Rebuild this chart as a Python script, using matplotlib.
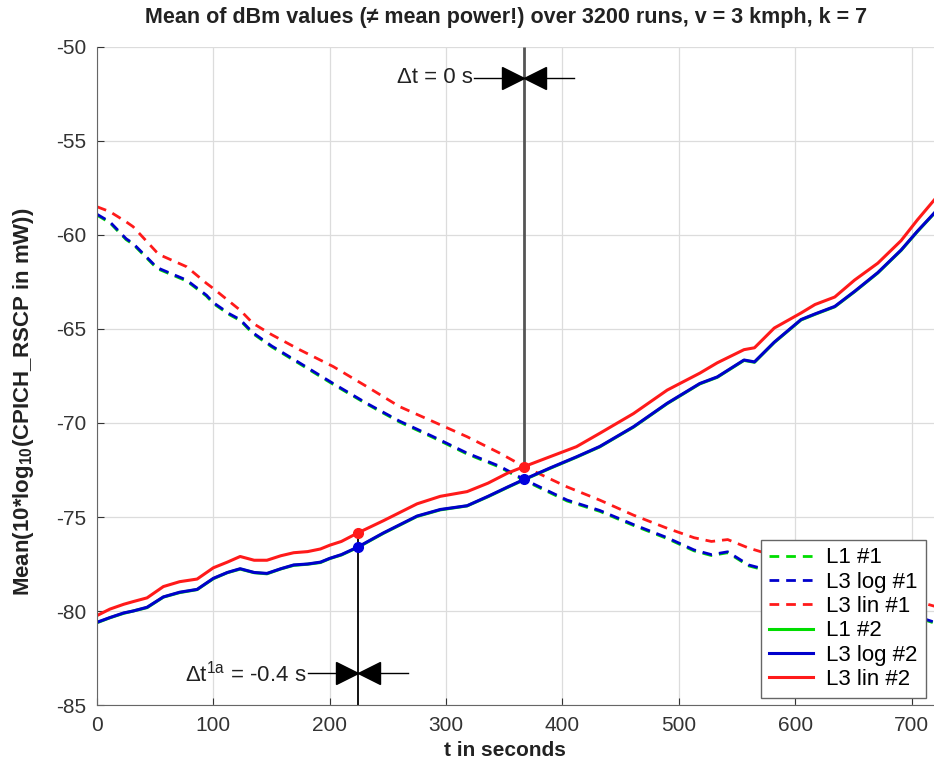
import matplotlib
matplotlib.use('Agg')
import matplotlib.pyplot as plt
from matplotlib.transforms import offset_copy

plt.rcParams['font.family'] = ['Liberation Sans', 'DejaVu Sans']
plt.rcParams['mathtext.fontset'] = 'custom'
plt.rcParams['mathtext.rm'] = 'Liberation Sans'
plt.rcParams['mathtext.bf'] = 'Liberation Sans:bold'
plt.rcParams['axes.unicode_minus'] = False

# runs #2 (solid): rising curves
t2 = [0, 11, 23, 31, 43, 57, 71, 86, 100, 112, 123, 135, 146, 158, 169, 181, 192, 200,
      210, 224, 246, 275, 295, 318, 336, 353, 367, 389, 412, 432, 461, 490, 518, 533,
      556, 565, 582, 605, 617, 634, 651, 671, 691, 705, 720]
l3_lin_2 = [-80.24, -79.9, -79.64, -79.5, -79.3, -78.7, -78.44, -78.3, -77.7, -77.4, -77.1,
            -77.3, -77.3, -77.06, -76.9, -76.84, -76.7, -76.5, -76.3, -75.85, -75.2, -74.3,
            -73.9, -73.65, -73.2, -72.66, -72.32, -71.8, -71.26, -70.55, -69.5, -68.25,
            -67.35, -66.8, -66.1, -66.0, -64.95, -64.15, -63.7, -63.3, -62.4, -61.5, -60.3,
            -59.2, -58.1]
l3_log_2 = [-80.6, -80.35, -80.1, -80.0, -79.8, -79.25, -79.0, -78.85, -78.26, -77.95, -77.75,
            -77.95, -78.0, -77.75, -77.55, -77.5, -77.4, -77.2, -77.0, -76.6, -75.85, -74.95,
            -74.6, -74.4, -73.9, -73.4, -73.0, -72.4, -71.8, -71.25, -70.2, -68.95, -67.9,
            -67.55, -66.65, -66.75, -65.7, -64.5, -64.2, -63.8, -63.0, -62.0, -60.8, -59.8,
            -58.8]
l1_2 = [-80.62, -80.36, -80.12, -80.0, -79.82, -79.26, -79.02, -78.86, -78.28, -77.96, -77.77,
        -77.96, -78.02, -77.76, -77.57, -77.51, -77.42, -77.21, -77.02, -76.62, -75.87, -74.97,
        -74.62, -74.41, -73.92, -73.42, -73.02, -72.42, -71.82, -71.27, -70.22, -68.97, -67.92,
        -67.57, -66.67, -66.77, -65.72, -64.52, -64.22, -63.82, -63.02, -62.02, -60.82, -59.82,
        -58.82]

# runs #1 (dashed): falling curves
t1 = [0, 11, 25, 31, 51, 54, 77, 94, 100, 114, 123, 134, 150, 174, 203, 232, 260, 289, 318,
      346, 367, 404, 432, 461, 490, 513, 528, 542, 560, 600, 650, 700, 720]
l3_lin_1 = [-58.5, -58.76, -59.3, -59.56, -60.9, -61.06, -61.69, -62.57, -62.85, -63.55, -64.0,
            -64.7, -65.3, -66.1, -67.0, -68.07, -69.13, -69.93, -70.73, -71.6, -72.32, -73.4,
            -74.1, -74.9, -75.6, -76.1, -76.3, -76.2, -76.65, -77.4, -78.4, -79.4, -79.75]
l3_log_1 = [-58.9, -59.3, -60.2, -60.45, -61.7, -61.8, -62.4, -63.2, -63.6, -64.2, -64.5,
            -65.2, -65.9, -66.8, -67.9, -68.96, -69.9, -70.73, -71.6, -72.3, -73.0, -74.1,
            -74.65, -75.4, -76.1, -76.75, -77.0, -76.85, -77.55, -78.2, -79.2, -80.2, -80.6]
l1_1 = [-58.95, -59.35, -60.25, -60.5, -61.75, -61.85, -62.45, -63.25, -63.65, -64.25, -64.55,
        -65.25, -65.95, -66.85, -67.95, -69.0, -69.95, -70.78, -71.65, -72.35, -73.05, -74.15,
        -74.7, -75.45, -76.15, -76.8, -77.05, -76.9, -77.6, -78.25, -79.25, -80.25, -80.65]

# crossing points marked with dots
t_cross = [224, 367]
cross_lin = [-75.85, -72.32]
cross_log = [-76.6, -73.0]
dt_labels = ['Δt$^{\\mathrm{1a}}$ = -0.4 s', 'Δt = 0 s']
dt_levels = [-83.3, -51.65]

fig = plt.figure(figsize=(9.34, 7.67), dpi=100)
ax = fig.add_axes([0.1039, 0.0808, 0.897, 0.858])

dash = (3.5, 2.5)
ax.plot(t1, l1_1, color='#00dd00', lw=2, dashes=dash, label='L1 #1')
ax.plot(t1, l3_log_1, color='#0000cc', lw=2, dashes=dash, label='L3 log #1')
ax.plot(t1, l3_lin_1, color='#ff1a1a', lw=2, dashes=dash, label='L3 lin #1')
ax.plot(t2, l1_2, color='#00dd00', lw=2.2, label='L1 #2')
ax.plot(t2, l3_log_2, color='#0000cc', lw=2.2, label='L3 log #2')
ax.plot(t2, l3_lin_2, color='#ff1a1a', lw=2.2, label='L3 lin #2')

# vertical markers
ax.vlines(t_cross[0], -85, cross_lin[0], color='black', lw=1.3, zorder=1)
ax.vlines(t_cross[1], -50, cross_lin[1], color='#555555', lw=2, zorder=1)
ax.plot(t_cross, cross_lin, 'o', color='#ff1a1a', ms=7, zorder=5)
ax.plot(t_cross, cross_log, 'o', color='#0000dd', ms=7, zorder=5)

# bow-tie annotations
ms = 16
for tc, lev, lab in zip(t_cross, dt_levels, dt_labels):
    ax.plot([tc - 43, tc + 43], [lev, lev], color='black', lw=1)
    left = offset_copy(ax.transData, fig=fig, x=-ms / 2, y=0, units='points')
    right = offset_copy(ax.transData, fig=fig, x=ms / 2, y=0, units='points')
    ax.plot([tc], [lev], marker='>', color='black', ms=ms, transform=left)
    ax.plot([tc], [lev], marker='<', color='black', ms=ms, transform=right)
    ax.text(tc - 44, lev, lab, ha='right', va='center', fontsize=16, color='#222222')

ax.set_xlim(0, 720)
ax.set_ylim(-85, -50)
ax.set_xticks([0, 100, 200, 300, 400, 500, 600, 700])
ax.set_yticks([-85, -80, -75, -70, -65, -60, -55, -50])
ax.grid(True, color='#dcdcdc', lw=0.9)
ax.set_axisbelow(True)
for s in ['top', 'right']:
    ax.spines[s].set_visible(False)
for s in ['left', 'bottom']:
    ax.spines[s].set_color('#666666')
ax.tick_params(direction='in', length=5, labelsize=15, colors='#333333', pad=8)

leg = ax.legend(loc='lower right', bbox_to_anchor=(0.989, 0.011), borderaxespad=0,
                fontsize=16, fancybox=False, framealpha=1, edgecolor='#666666',
                handlelength=2.0, labelspacing=0.15, borderpad=0.35, handletextpad=0.6)
leg.get_frame().set_linewidth(1)

fig.text(0.542, 1 - 17 / 767, 'Mean of dBm values (≠ mean power!) over 3200 runs, v = 3 kmph, k = 7',
         ha='center', va='center', fontsize=15.5, fontweight='bold', color='#222222')
fig.text(505 / 934, 1 - 750 / 767, 't in seconds', ha='center', va='center',
         fontsize=15, fontweight='bold', color='#222222')
fig.text(24 / 934, 1 - 402 / 767, 'Mean(10*log$_{\\mathbf{10}}$(CPICH_RSCP in mW))', rotation=90,
         ha='center', va='center', fontsize=16, fontweight='bold', color='#222222')

fig.savefig('out.png', dpi=100)
